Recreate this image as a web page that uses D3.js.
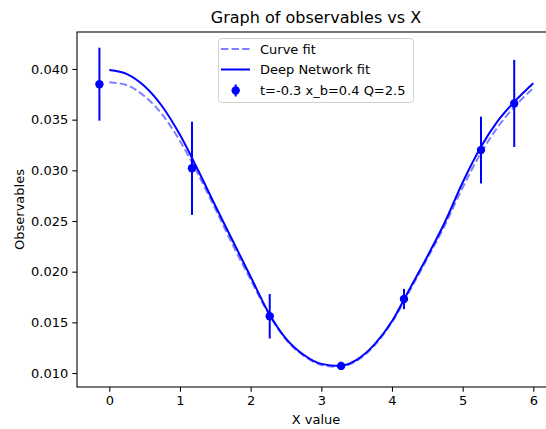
<!DOCTYPE html>
<html><head><meta charset="utf-8">
<script src="https://cdn.jsdelivr.net/npm/d3@7"></script>
<style>body{margin:0;background:#fff}svg{display:block;font-family:"DejaVu Sans",sans-serif}</style>
</head><body><svg id="c" width="546" height="429"></svg>
<script>
// Data
const curveX = [0,0.25,0.5,0.75,1.0,1.25,1.5,1.75,2.0,2.25,2.5,2.75,3.0,3.25,3.5,3.75,4.0,4.25,4.5,4.75,5.0,5.25,5.5,5.75,6.0];
const deepFit = [0.0399,0.0395,0.0383,0.0363,0.0335,0.0301,0.0265,0.0230,0.0195,0.0160,0.0134,0.0118,0.0109,0.0107,0.0113,0.0128,0.0151,0.0183,0.0215,0.0249,0.0288,0.0322,0.0349,0.0369,0.0386];
const curveFit = [0.0387,0.0384,0.0373,0.0355,0.0329,0.0297,0.0262,0.0226,0.0192,0.0159,0.0133,0.0117,0.0108,0.0106,0.0112,0.0127,0.0150,0.0181,0.0213,0.0246,0.0283,0.0316,0.0343,0.0364,0.0381];
const obsX = [-0.14,1.17,2.27,3.28,4.17,5.26,5.73];
const obsY = [0.0385,0.0302,0.0156,0.0107,0.0173,0.0320,0.0366];
const obsErr = [0.0036,0.0046,0.0022,0.0004,0.0010,0.0033,0.0043];
const xTicks = [0,1,2,3,4,5,6];
const yTicks = [0.010,0.015,0.020,0.025,0.030,0.035,0.040];
const title = "Graph of observables vs X";
const xLabel = "X value";
const yLabel = "Observables";
const legendLabels = ["Curve fit","Deep Network fit","t=-0.3 x_b=0.4 Q=2.5"];

const svg = d3.select("#c");
const L=77, T=32, R=555, B=387;
const x = d3.scaleLinear().domain([-0.457,6.307]).range([L,R]);
const y = d3.scaleLinear().domain([0.00862,0.04365]).range([B,T]);

// axes
const xa = svg.append("g").attr("transform",`translate(0,${B})`)
  .call(d3.axisBottom(x).tickValues(xTicks).tickFormat(d3.format("d")).tickSize(4.7).tickPadding(4));
const ya = svg.append("g").attr("transform",`translate(${L},0)`)
  .call(d3.axisLeft(y).tickValues(yTicks).tickFormat(d3.format(".3f")).tickSize(4.7).tickPadding(4));
[xa,ya].forEach(g=>{
  g.select(".domain").remove();
  g.selectAll(".tick line").attr("stroke","#000").attr("stroke-width",1.07);
  g.selectAll(".tick text").attr("fill","#000").attr("font-size",13).attr("font-family","DejaVu Sans");
});
// frame
svg.append("rect").attr("x",L).attr("y",T).attr("width",R-L).attr("height",B-T)
  .attr("fill","none").attr("stroke","#000").attr("stroke-width",1.07);

const line = d3.line().curve(d3.curveMonotoneX);
// curve fit (dashed, alpha)
svg.append("path").attr("d",line(curveX.map((v,i)=>[x(v),y(curveFit[i])])))
  .attr("fill","none").attr("stroke","#0000ff").attr("stroke-opacity",0.5)
  .attr("stroke-width",2).attr("stroke-dasharray","7.4,3.2");
// deep network fit
svg.append("path").attr("d",line(curveX.map((v,i)=>[x(v),y(deepFit[i])])))
  .attr("fill","none").attr("stroke","#0000ff").attr("stroke-width",2);

// error bars
const pts = svg.append("g");
obsX.forEach((v,i)=>{
  pts.append("line").attr("x1",x(v)).attr("x2",x(v))
    .attr("y1",y(obsY[i]-obsErr[i])).attr("y2",y(obsY[i]+obsErr[i]))
    .attr("stroke","#0000ff").attr("stroke-width",2);
  pts.append("circle").attr("cx",x(v)).attr("cy",y(obsY[i])).attr("r",4.2).attr("fill","#0000ff");
});

// title & labels
svg.append("text").attr("x",(L+R)/2).attr("y",23).attr("text-anchor","middle")
  .attr("font-size",16).attr("fill","#000").text(title);
svg.append("text").attr("x",(L+R)/2).attr("y",424).attr("text-anchor","middle")
  .attr("font-size",13).attr("fill","#000").text(xLabel);
svg.append("text").attr("transform",`translate(24,${(T+B)/2}) rotate(-90)`).attr("text-anchor","middle")
  .attr("font-size",13).attr("fill","#000").text(yLabel);

// legend
const lg = svg.append("g");
lg.append("rect").attr("x",218.5).attr("y",38.5).attr("width",195).attr("height",64).attr("rx",3)
  .attr("fill","#fff").attr("fill-opacity",0.8).attr("stroke","#d0d0d0").attr("stroke-width",1);
const rows=[49,69.5,90.5];
lg.append("line").attr("x1",221).attr("x2",250).attr("y1",rows[0]).attr("y2",rows[0])
  .attr("stroke","#0000ff").attr("stroke-opacity",0.5).attr("stroke-width",2).attr("stroke-dasharray","7.4,3.2");
lg.append("line").attr("x1",221).attr("x2",250).attr("y1",rows[1]).attr("y2",rows[1])
  .attr("stroke","#0000ff").attr("stroke-width",2);
lg.append("line").attr("x1",235.7).attr("x2",235.7).attr("y1",rows[2]-6).attr("y2",rows[2]+6)
  .attr("stroke","#0000ff").attr("stroke-width",2);
lg.append("circle").attr("cx",235.7).attr("cy",rows[2]).attr("r",4.2).attr("fill","#0000ff");
legendLabels.forEach((t,i)=>{
  lg.append("text").attr("x",260).attr("y",rows[i]+4.7).attr("font-size",13).attr("fill","#000").text(t);
});
</script></body></html>
